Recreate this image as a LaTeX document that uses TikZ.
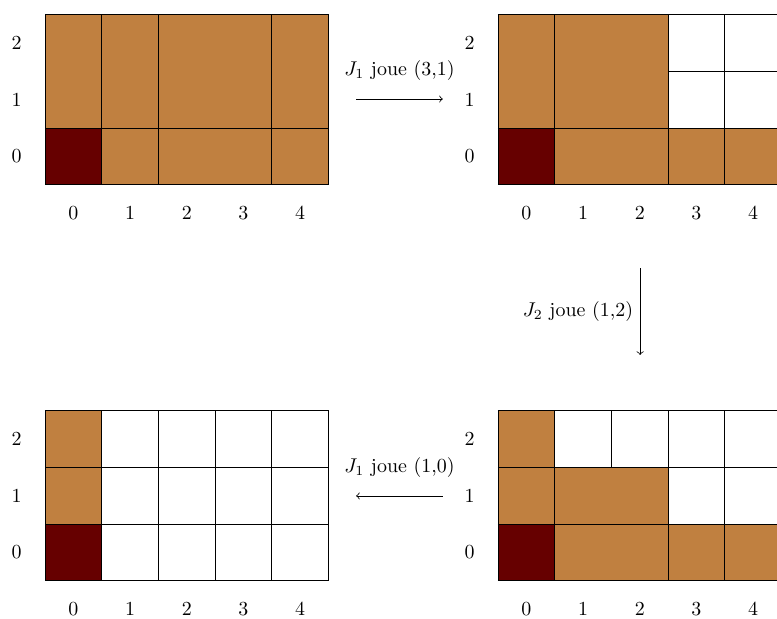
\documentclass[tikz,border=0pt]{standalone}
\definecolor{brun}{RGB}{192,128,64}
\definecolor{sombre}{RGB}{102,0,0}
\begin{document}
\begin{tikzpicture}[x=1cm,y=1cm,
  br/.style={draw=black,fill=brun},
  dk/.style={draw=black,fill=sombre},
  lab/.style={font=\normalsize}]
\useasboundingbox (0,0) rectangle (13.704,10.917);
\clip (0,0) rectangle (13.704,10.917);
% ---------- top-left ----------
\begin{scope}[shift={(0.794,7.66)}]
  \draw (0,0) grid (5,3);
  \draw[br] (0,1) rectangle (1,3);
  \draw[br] (1,1) rectangle (2,3);
  \draw[br] (2,1) rectangle (4,3);
  \draw[br] (4,1) rectangle (5,3);
  \draw[br] (1,0) rectangle (2,1);
  \draw[br] (2,0) rectangle (4,1);
  \draw[br] (4,0) rectangle (5,1);
  \draw[dk] (0,0) rectangle (1,1);
  \foreach \i in {0,1,2} \node[lab] (tlr\i) at (-0.5,\i+0.5) {\i};
  \foreach \j in {0,...,4} \node[lab] (tlc\j) at (\j+0.5,-0.5) {\j};
\end{scope}
% ---------- top-right ----------
\begin{scope}[shift={(8.783,7.66)}]
  \draw (0,0) grid (5,3);
  \draw[br] (0,1) rectangle (1,3);
  \draw[br] (1,1) rectangle (3,3);
  \draw[br] (1,0) rectangle (3,1);
  \draw[br] (3,0) rectangle (4,1);
  \draw[br] (4,0) rectangle (5,1);
  \draw[dk] (0,0) rectangle (1,1);
  \foreach \i in {0,1,2} \node[lab] (trr\i) at (-0.5,\i+0.5) {\i};
  \foreach \j in {0,...,4} \node[lab] (trc\j) at (\j+0.5,-0.5) {\j};
\end{scope}
% ---------- bottom-left ----------
\begin{scope}[shift={(0.794,0.675)}]
  \draw (0,0) grid (5,3);
  \draw[br] (0,2) rectangle (1,3);
  \draw[br] (0,1) rectangle (1,2);
  \draw[dk] (0,0) rectangle (1,1);
  \foreach \i in {0,1,2} \node[lab] (blr\i) at (-0.5,\i+0.5) {\i};
  \foreach \j in {0,...,4} \node[lab] (blc\j) at (\j+0.5,-0.5) {\j};
\end{scope}
% ---------- bottom-right ----------
\begin{scope}[shift={(8.783,0.675)}]
  \draw (0,0) grid (5,3);
  \draw[br] (0,2) rectangle (1,3);
  \draw[br] (0,1) rectangle (1,2);
  \draw[br] (1,1) rectangle (3,2);
  \draw[br] (1,0) rectangle (3,1);
  \draw[br] (3,0) rectangle (4,1);
  \draw[br] (4,0) rectangle (5,1);
  \draw[dk] (0,0) rectangle (1,1);
  \foreach \i in {0,1,2} \node[lab] (brr\i) at (-0.5,\i+0.5) {\i};
  \foreach \j in {0,...,4} \node[lab] (brc\j) at (\j+0.5,-0.5) {\j};
\end{scope}
% ---------- arrows ----------
\coordinate (a1s) at (6.28,9.17);
\coordinate (a1e) at (7.81,9.17);
\draw[->] (a1s) -- (a1e);
\node (l1) at (7.045,9.68) {$J_1$ joue (3,1)};
\coordinate (a2s) at (11.29,6.19);
\coordinate (a2e) at (11.29,4.656);
\draw[->] (a2s) -- (a2e);
\node[anchor=east] (l2) at (11.29,5.43) {$J_2$ joue (1,2)};
\coordinate (a3s) at (7.81,2.17);
\coordinate (a3e) at (6.28,2.17);
\draw[->] (a3s) -- (a3e);
\node (l3) at (7.045,2.68) {$J_1$ joue (1,0)};
\end{tikzpicture}
\end{document}
